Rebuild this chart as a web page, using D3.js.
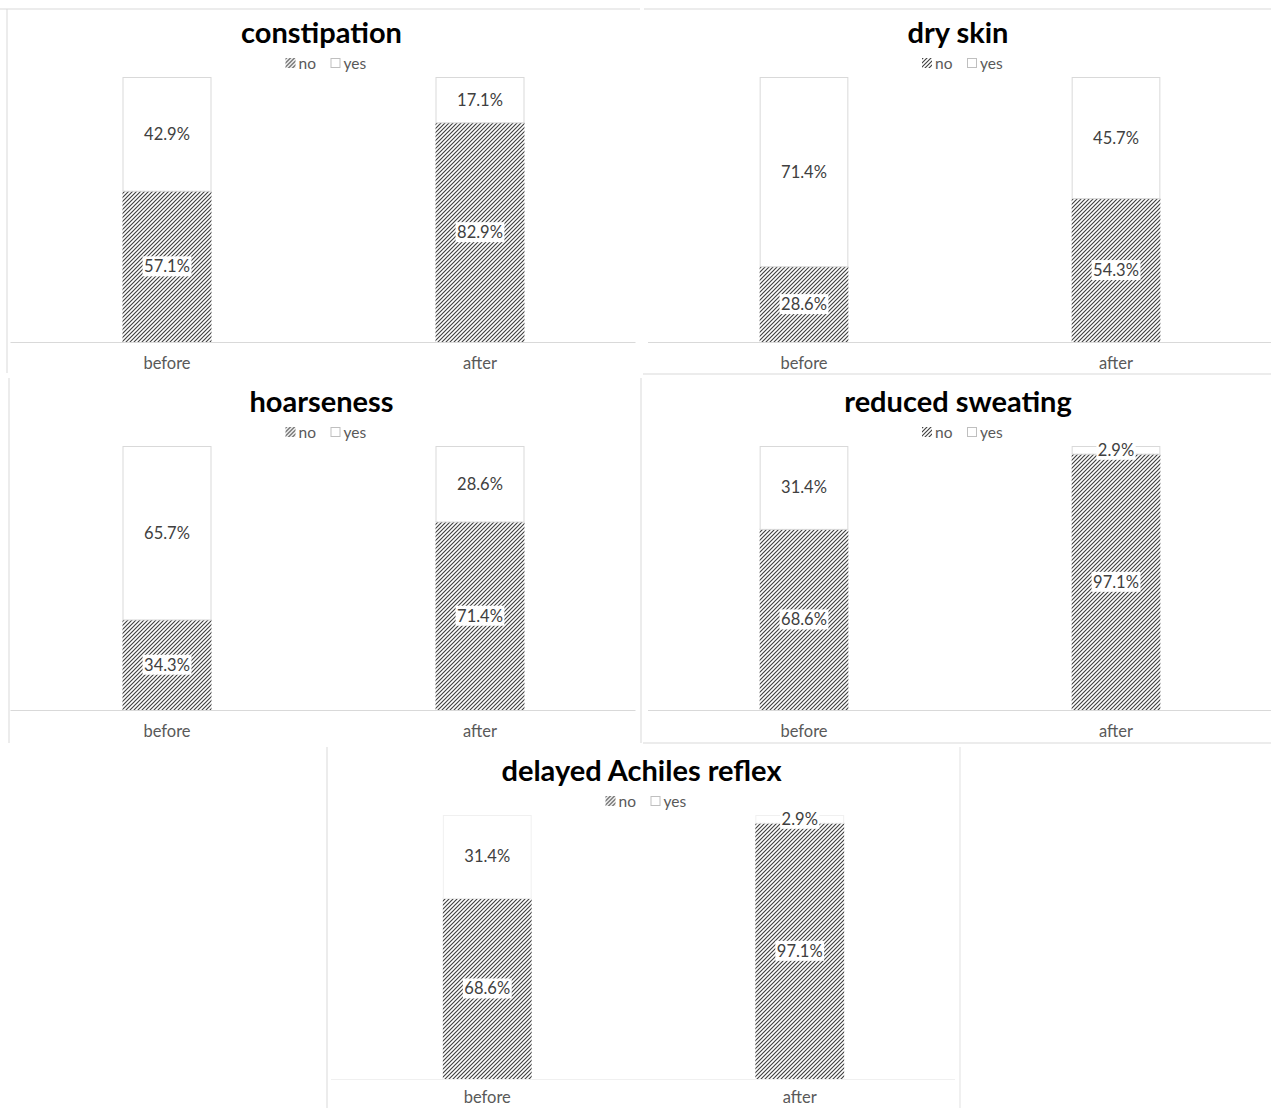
<!DOCTYPE html>
<html lang="en">
<head>
  <meta charset="utf-8" />
  <title>Symptoms before / after</title>
  <script src="https://d3js.org/d3.v7.min.js"></script>
  <style>
    html, body { margin: 0; padding: 0; background: #fff; }
    svg { display: block; font-family: Lato, "Open Sans", sans-serif; }
    .title { font-weight: bold; font-size: 29px; fill: #000; }
    .legend text { font-size: 15.5px; fill: #595959; }
    .xlab { font-size: 16.5px; fill: #595959; }
    .val { font-size: 16.5px; fill: #404040; }
    .frame { stroke: #d9d9d9; stroke-width: 1; }
  </style>
</head>
<body>
  <svg id="chart" width="1271" height="1108"></svg>
  <script>
    // chart data
    const titles = ["constipation", "dry skin", "hoarseness", "reduced sweating", "delayed Achiles reflex"];
    const categories = ["before", "after"];
    const seriesNames = ["no", "yes"];
    const noValues  = [[57.1, 82.9], [28.6, 54.3], [34.3, 71.4], [68.6, 97.1], [68.6, 97.1]];
    const yesValues = [[42.9, 17.1], [71.4, 45.7], [65.7, 28.6], [31.4, 2.9], [31.4, 2.9]];

    // where each small chart sits on the page
    const panels = [
      { x0: 10.5, x1: 636.5, top: 77, bottom: 342, line: "#d9d9d9", lab: 21 },
      { x0: 648, x1: 1272, top: 77, bottom: 342, line: "#d9d9d9", lab: 21 },
      { x0: 10.5, x1: 636.5, top: 446, bottom: 710, line: "#d9d9d9", lab: 21 },
      { x0: 648, x1: 1272, top: 446, bottom: 710, line: "#d9d9d9", lab: 21 },
      { x0: 331, x1: 956, top: 815, bottom: 1079, line: "#f0f0f0", lab: 18 }
    ];

    const svg = d3.select("#chart");

    // hatch pattern (wide upward diagonal)
    const defs = svg.append("defs");
    defs.append("pattern")
      .attr("id", "hatch")
      .attr("patternUnits", "userSpaceOnUse")
      .attr("width", 4).attr("height", 4)
      .call(p => {
        p.append("rect").attr("width", 4).attr("height", 4).attr("fill", "#fff");
        p.append("path")
          .attr("d", "M-1,1 l2,-2 M0,4 l4,-4 M3,5 l2,-2")
          .attr("stroke", "#404040").attr("stroke-width", 1.15);
      });

    // chart frames (partial borders as in the source)
    const frames = [
      [0, 9, 640, 9], [644, 9, 1271, 9],
      [7, 9, 7, 373], [9, 378, 9, 743],
      [643, 374, 1271, 374], [641, 378, 641, 743],
      [643, 743, 1271, 743],
      [327, 747, 327, 1108]
    ];
    svg.append("g").selectAll("line").data(frames).join("line")
      .attr("class", "frame")
      .attr("x1", d => d[0]).attr("y1", d => d[1])
      .attr("x2", d => d[2]).attr("y2", d => d[3]);
    svg.append("line")
      .attr("x1", 960).attr("y1", 747).attr("x2", 960).attr("y2", 1108)
      .attr("stroke", "#f0f0f0").attr("stroke-width", 2);

    panels.forEach((p, i) => {
      const g = svg.append("g");

      const x = d3.scaleBand()
        .domain(categories)
        .range([p.x0, p.x1])
        .paddingInner(0.7157)
        .paddingOuter(0.7157 / 2);

      const y = d3.scaleLinear()
        .domain([0, 100])
        .range([p.bottom, p.top]);

      const cx = (p.x0 + p.x1) / 2;

      // title
      g.append("text")
        .attr("class", "title")
        .attr("x", cx - 2).attr("y", p.top - 46)
        .attr("text-anchor", "middle")
        .attr("dominant-baseline", "central")
        .text(titles[i]);

      // legend
      const lg = g.append("g").attr("class", "legend")
        .attr("transform", `translate(${cx - 38},${p.top - 14})`);
      lg.append("rect").attr("x", 0).attr("y", -5).attr("width", 10).attr("height", 10)
        .attr("fill", "url(#hatch)");
      lg.append("text").attr("x", 13).attr("y", 0).attr("dominant-baseline", "central").text(seriesNames[0]);
      lg.append("rect").attr("x", 45.5).attr("y", -4.5).attr("width", 9).attr("height", 9)
        .attr("fill", "#fff").attr("stroke", "#bfbfbf");
      lg.append("text").attr("x", 58).attr("y", 0).attr("dominant-baseline", "central").text(seriesNames[1]);

      // axis baseline
      g.append("line")
        .attr("stroke", p.line)
        .attr("x1", p.x0).attr("x2", p.x1 - 1)
        .attr("y1", p.bottom + 0.5).attr("y2", p.bottom + 0.5);

      const rows = categories.map((c, j) => ({ cat: c, no: noValues[i][j], yes: yesValues[i][j] }));
      const stacked = d3.stack().keys(["no", "yes"])(rows);

      // bars
      g.append("g").selectAll("rect")
        .data(stacked[0]).join("rect")
        .attr("x", d => x(d.data.cat))
        .attr("y", d => y(d[1]))
        .attr("width", x.bandwidth())
        .attr("height", d => y(d[0]) - y(d[1]))
        .attr("fill", "url(#hatch)");

      g.append("g").selectAll("rect")
        .data(stacked[1]).join("rect")
        .attr("x", d => x(d.data.cat) + 0.5)
        .attr("y", d => y(d[1]) + 0.5)
        .attr("width", x.bandwidth() - 1)
        .attr("height", d => y(d[0]) - y(d[1]))
        .attr("fill", "#fff")
        .attr("stroke", p.line);

      // value labels with white boxes
      stacked.forEach(layer => {
        layer.forEach(d => {
          const lx = x(d.data.cat) + x.bandwidth() / 2;
          const ly = y((d[0] + d[1]) / 2);
          const t = g.append("text")
            .attr("class", "val")
            .attr("x", lx).attr("y", ly)
            .attr("text-anchor", "middle")
            .attr("dominant-baseline", "central")
            .text(d3.format(".1f")(d[1] - d[0]) + "%");
          const b = t.node().getBBox();
          g.insert("rect", () => t.node())
            .attr("x", b.x - 1.5).attr("y", b.y)
            .attr("width", b.width + 3).attr("height", b.height)
            .attr("fill", "#fff");
        });
      });

      // category labels
      g.append("g").selectAll("text")
        .data(categories).join("text")
        .attr("class", "xlab")
        .attr("x", d => x(d) + x.bandwidth() / 2)
        .attr("y", p.bottom + p.lab)
        .attr("text-anchor", "middle")
        .attr("dominant-baseline", "central")
        .text(d => d);
    });
  </script>
</body>
</html>
